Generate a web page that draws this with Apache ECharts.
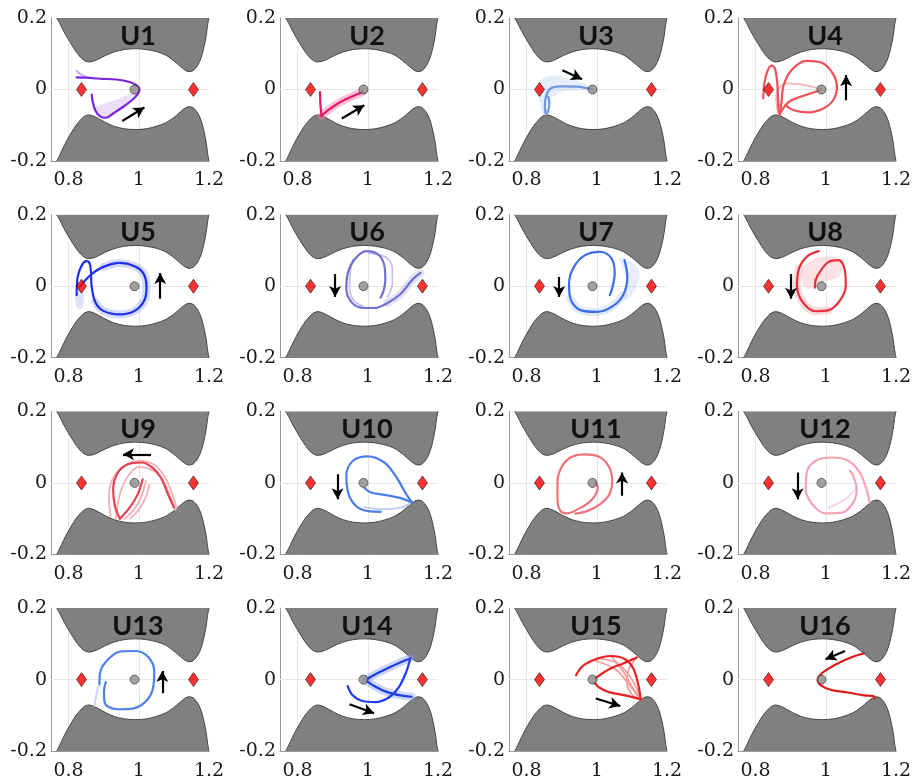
<!DOCTYPE html>
<html><head><meta charset="utf-8">
<script src="https://cdn.jsdelivr.net/npm/echarts@6/dist/echarts.min.js"></script>
<style>html,body{margin:0;padding:0;background:#fff}#c{width:917px;height:783px}</style>
</head><body><div id="c"></div>
<script>
// ---------- data ----------
const panelNames = ['U1','U2','U3','U4','U5','U6','U7','U8','U9','U10','U11','U12','U13','U14','U15','U16'];
const xTicks = [0.8, 1, 1.2];
const yTicks = [-0.2, 0, 0.2];
const lagrangeX = [0.8369, 1.1557];
const moonX = 0.98785;

// zero-velocity-curve boundaries (forbidden region edges)
const zvcX     = [0.766,0.775,0.785,0.796,0.810,0.822,0.834,0.845,0.857,0.870,0.885,0.905,0.930,0.960,0.990,1.020,1.050,1.077,1.100,1.119,1.132,1.143,1.155,1.168,1.178,1.186,1.192,1.196,1.200];
const zvcUpper = [0.200,0.185,0.165,0.146,0.123,0.105,0.090,0.081,0.077,0.079,0.085,0.095,0.105,0.112,0.114,0.112,0.106,0.096,0.080,0.064,0.054,0.050,0.053,0.068,0.090,0.120,0.150,0.180,0.200];
const zvcLower = [-0.200,-0.183,-0.162,-0.141,-0.117,-0.099,-0.085,-0.075,-0.071,-0.074,-0.081,-0.092,-0.103,-0.110,-0.112,-0.110,-0.103,-0.093,-0.078,-0.062,-0.052,-0.048,-0.051,-0.066,-0.088,-0.118,-0.148,-0.178,-0.200];

// trajectories
const u1Main = [[0.823,0.034],[0.852,0.033],[0.890,0.030],[0.937,0.028],[0.974,0.021],[0.993,0.012],[1.002,0.000],[0.997,-0.013],[0.983,-0.028],[0.955,-0.049],[0.927,-0.067],[0.907,-0.079],[0.890,-0.075],[0.876,-0.058],[0.868,-0.030],[0.866,-0.014]];
const u1Tail = [[0.823,0.052],[0.835,0.042],[0.852,0.035]];
const u1Fan = [[0.875,-0.050],[0.907,-0.077],[0.955,-0.050],[0.994,-0.014],[0.982,-0.011],[0.936,-0.028],[0.899,-0.041]];
const u1Arrow = [[0.953,-0.088],[1.016,-0.050]];

const u2A = [[0.864,-0.007],[0.865,-0.039],[0.868,-0.074]];
const u2B = [[0.868,-0.074],[0.887,-0.058],[0.915,-0.039],[0.943,-0.025],[0.966,-0.015],[0.985,-0.007]];
const u2Arrow = [[0.926,-0.081],[0.990,-0.044]];

const u3Main = [[0.988,0.000],[0.944,0.008],[0.897,0.009],[0.867,0.002],[0.855,-0.021],[0.852,-0.049],[0.856,-0.067],[0.862,-0.058],[0.865,-0.035],[0.862,-0.021]];
const u3Fan = [[0.986,0.001],[0.953,0.021],[0.907,0.036],[0.860,0.037],[0.837,0.021],[0.834,-0.021],[0.846,-0.067],[0.855,-0.072],[0.865,-0.030],[0.897,-0.009],[0.944,-0.002]];
const u3Arrow = [[0.902,0.054],[0.958,0.029]];

const u4Loop = [[0.822,-0.025],[0.825,0.017],[0.834,0.052],[0.845,0.067],[0.855,0.059],[0.861,0.026],[0.864,-0.021],[0.866,-0.058],[0.869,-0.072]];
const u4Circle = [[0.869,-0.072],[0.874,-0.035],[0.880,0.012],[0.904,0.056],[0.946,0.080],[0.993,0.073],[1.023,0.040],[1.032,0.006],[1.021,-0.030],[0.993,-0.053],[0.951,-0.064],[0.909,-0.058],[0.885,-0.044]];
const u4Line = [[0.871,-0.065],[0.894,-0.035],[0.932,-0.019],[0.969,-0.007],[0.988,0.000]];
const u4Faint = [[0.988,0.000],[0.941,0.012],[0.894,0.017],[0.868,0.006],[0.859,-0.021],[0.863,-0.063]];
const u4Arrow = [[1.058,-0.030],[1.058,0.040]];

const u5Main = [[0.823,-0.025],[0.826,0.026],[0.838,0.059],[0.851,0.070],[0.860,0.064],[0.864,0.036],[0.866,-0.002],[0.876,-0.044],[0.899,-0.069],[0.946,-0.079],[0.988,-0.069],[1.016,-0.039],[1.022,-0.002],[1.013,0.036],[0.988,0.056],[0.946,0.065],[0.899,0.054],[0.866,0.034],[0.843,0.012],[0.832,-0.002]];
const u5Band = [[0.876,-0.044],[0.899,-0.069],[0.946,-0.079],[0.988,-0.069],[1.016,-0.039],[1.022,-0.002],[1.013,0.036],[0.988,0.056],[0.946,0.065],[0.899,0.054]];
const u5Fan = [[0.820,-0.021],[0.823,-0.058],[0.838,-0.063],[0.843,-0.030],[0.834,-0.002]];
const u5Arrow = [[1.061,-0.035],[1.061,0.037]];

const u6Main = [[1.150,0.037],[1.126,0.017],[1.094,-0.021],[1.056,-0.047],[1.019,-0.061],[0.981,-0.060],[0.953,-0.044],[0.939,-0.007],[0.944,0.040],[0.965,0.078],[0.995,0.098],[1.028,0.090],[1.047,0.059],[1.050,0.017],[1.044,-0.016],[1.036,-0.032]];
const u6Faint1 = [[1.003,0.092],[1.050,0.082],[1.070,0.050],[1.070,0.007],[1.056,-0.030]];
const u6Faint2 = [[0.958,0.075],[0.950,0.040],[0.948,-0.005],[0.960,-0.040],[0.985,-0.055]];
const u6Band = [[1.150,0.037],[1.126,0.017],[1.094,-0.021],[1.056,-0.047]];
const u6Arrow = [[0.907,0.034],[0.907,-0.030]];

const u7Main = [[1.079,0.073],[1.087,0.026],[1.075,-0.025],[1.042,-0.058],[1.000,-0.072],[0.953,-0.067],[0.925,-0.035],[0.921,0.007],[0.935,0.054],[0.967,0.087],[1.009,0.096],[1.042,0.078],[1.051,0.036],[1.045,-0.002],[1.037,-0.025]];
const u7Fan = [[1.065,0.078],[1.103,0.064],[1.122,0.036],[1.108,-0.011],[1.080,-0.039],[1.084,0.017]];
const u7Band = [[1.075,-0.025],[1.042,-0.058],[1.000,-0.072],[0.953,-0.067],[0.925,-0.035]];
const u7Arrow = [[0.893,0.026],[0.893,-0.030]];

const u8Main = [[0.980,0.098],[0.948,0.084],[0.924,0.050],[0.918,0.003],[0.934,-0.044],[0.971,-0.070],[1.008,-0.067],[1.041,-0.039],[1.057,0.003],[1.053,0.050],[1.036,0.073],[1.008,0.068],[0.985,0.043],[0.971,0.017],[0.969,-0.004]];
const u8Fan = [[0.934,0.050],[0.971,0.078],[1.027,0.082],[1.051,0.054],[1.036,0.026],[0.990,0.012],[0.952,-0.007],[0.934,0.007]];
const u8Band = [[0.924,0.050],[0.918,0.003],[0.934,-0.044],[0.971,-0.070],[1.008,-0.067]];
const u8Arrow = [[0.901,0.034],[0.901,-0.035]];

const u9A = [[1.100,-0.069],[1.081,-0.027],[1.063,0.015],[1.039,0.043],[1.007,0.057],[0.969,0.052],[0.941,0.029],[0.927,-0.018],[0.932,-0.064],[0.946,-0.100]];
const u9B = [[0.946,-0.100],[0.974,-0.069],[0.997,-0.032],[1.011,0.010]];
const u9F1 = [[0.920,-0.095],[0.915,-0.040],[0.925,0.010],[0.955,0.045],[1.000,0.062],[1.045,0.050],[1.075,0.015],[1.095,-0.030],[1.108,-0.070]];
const u9F2 = [[0.960,-0.100],[0.990,-0.070],[1.010,-0.030],[1.020,0.005]];
const u9F3 = [[0.975,-0.100],[1.000,-0.075],[1.020,-0.040],[1.030,-0.005]];
const u9F4 = [[0.935,-0.100],[0.940,-0.060],[0.950,-0.020],[0.970,0.020],[1.000,0.045],[1.040,0.035],[1.070,0.005],[1.090,-0.040],[1.105,-0.075]];
const u9Arrow = [[1.035,0.080],[0.955,0.080]];

const u10A = [[0.991,-0.015],[1.009,-0.027],[1.056,-0.035],[1.098,-0.044],[1.126,-0.055]];
const u10B = [[1.126,-0.055],[1.107,-0.027],[1.079,0.020],[1.047,0.057],[1.000,0.074],[0.958,0.062],[0.939,0.020],[0.949,-0.041],[0.986,-0.076],[1.037,-0.081]];
const u10Faint = [[0.990,-0.068],[1.040,-0.074],[1.090,-0.070],[1.120,-0.058]];
const u10Arrow = [[0.914,0.024],[0.914,-0.046]];

const u11Main = [[0.995,0.003],[1.003,-0.013],[0.995,-0.036],[0.977,-0.055],[0.949,-0.072],[0.916,-0.085],[0.897,-0.079],[0.888,-0.046],[0.888,0.001],[0.899,0.043],[0.925,0.071],[0.963,0.080],[1.005,0.074],[1.033,0.048],[1.044,0.008],[1.036,-0.032],[1.009,-0.060],[0.972,-0.079],[0.939,-0.086]];
const u11Arrow = [[1.072,-0.036],[1.072,0.029]];

const u12Main = [[1.125,-0.055],[1.116,-0.018],[1.097,0.029],[1.064,0.062],[1.018,0.071],[0.971,0.062],[0.946,0.029],[0.943,-0.018],[0.962,-0.060],[0.999,-0.085],[1.046,-0.083],[1.078,-0.055],[1.088,-0.018],[1.078,0.020],[1.069,0.034]];
const u12Faint = [[1.008,-0.069],[1.055,-0.046],[1.088,-0.013]];
const u12Arrow = [[0.920,0.029],[0.920,-0.046]];

const u13Main = [[0.888,-0.013],[0.890,0.020],[0.913,0.057],[0.950,0.079],[0.993,0.080],[1.028,0.062],[1.044,0.024],[1.041,-0.022],[1.021,-0.060],[0.983,-0.081],[0.941,-0.083],[0.913,-0.076],[0.902,-0.060],[0.901,-0.032],[0.906,-0.007]];
const u13Faint = [[0.874,-0.074],[0.880,-0.036],[0.888,-0.013]];
const u13Arrow = [[1.067,-0.038],[1.067,0.024]];

const u14A = [[0.943,-0.018],[0.957,-0.044],[0.985,-0.060],[1.022,-0.063],[1.060,-0.050],[1.088,-0.022],[1.109,0.020],[1.121,0.059]];
const u14B = [[1.121,0.059],[1.092,0.048],[1.055,0.031],[1.022,0.015],[0.997,0.001]];
const u14C = [[0.997,-0.004],[1.022,-0.020],[1.055,-0.035],[1.093,-0.044],[1.125,-0.048]];
const u14Arrow = [[0.948,-0.069],[1.018,-0.094]];

const u15A = [[0.941,0.012],[0.960,0.038],[0.997,0.057],[1.039,0.066],[1.081,0.057],[1.105,0.029],[1.119,-0.018],[1.125,-0.055]];
const u15B = [[1.125,-0.055],[1.081,-0.044],[1.035,-0.035],[1.007,-0.022],[0.993,-0.008]];
const u15C = [[0.995,0.003],[1.035,0.029],[1.077,0.046],[1.114,0.062]];
const u15F1 = [[1.114,0.062],[1.091,0.029],[1.086,-0.008],[1.100,-0.041],[1.125,-0.055]];
const u15F2 = [[1.044,0.062],[1.077,0.020],[1.105,-0.027],[1.125,-0.055]];
const u15F3 = [[0.997,0.052],[1.053,0.029],[1.091,-0.013],[1.123,-0.055]];
const u15F4 = [[1.000,0.060],[1.060,0.045],[1.100,0.000],[1.124,-0.050]];
const u15Arrow = [[0.997,-0.053],[1.067,-0.074]];

const u16Main = [[1.108,0.073],[1.072,0.062],[1.035,0.046],[1.002,0.027],[0.983,0.012],[0.977,-0.001],[0.986,-0.016],[1.016,-0.029],[1.063,-0.036],[1.109,-0.044],[1.136,-0.046],[1.139,-0.053]];
const u16Arrow = [[1.055,0.080],[0.999,0.057]];

// per-panel colours
const mainColors  = ['#7a22e0','#e8156a','#6d95e0','#ef5058','#1f2ee8','#7070d0','#3d6ee8','#e8303c','#e04451','#4d7de8','#f0727a','#f5a3b5','#4f80ea','#1f3de4','#ea2020','#e01818'];
const lightColors = ['#c4a4f2','#f27aa8','#b9cdf2','#f8b4b8','#9fb0f4','#c2c2ee','#bccdf6','#f6aeb3','#f4b0b6','#bccdf6','#f8c0c4','#fad2dc','#c2d3f6','#8ea4f2','#f4a0a0','#f4a0a0'];

const panels = [
  {main:[u1Main], faint:[u1Tail], thick:[], polys:[u1Fan], arrow:u1Arrow},
  {main:[u2A,u2B], faint:[], thick:[u2B], polys:[], arrow:u2Arrow},
  {main:[u3Main], faint:[], thick:[], polys:[u3Fan], arrow:u3Arrow},
  {main:[u4Loop,u4Circle,u4Line], faint:[u4Faint], thick:[], polys:[], arrow:u4Arrow},
  {main:[u5Main], faint:[], thick:[u5Band], polys:[u5Fan], arrow:u5Arrow},
  {main:[u6Main], faint:[u6Faint1,u6Faint2], thick:[u6Band], polys:[], arrow:u6Arrow},
  {main:[u7Main], faint:[], thick:[u7Band], polys:[u7Fan], arrow:u7Arrow},
  {main:[u8Main], faint:[], thick:[u8Band], polys:[u8Fan], arrow:u8Arrow},
  {main:[u9A,u9B], faint:[u9F1,u9F2,u9F3,u9F4], thick:[], polys:[], arrow:u9Arrow},
  {main:[u10A,u10B], faint:[u10Faint], thick:[], polys:[], arrow:u10Arrow},
  {main:[u11Main], faint:[], thick:[], polys:[], arrow:u11Arrow},
  {main:[u12Main], faint:[u12Faint], thick:[], polys:[], arrow:u12Arrow},
  {main:[u13Main], faint:[u13Faint], thick:[], polys:[], arrow:u13Arrow},
  {main:[u14A,u14B,u14C], faint:[], thick:[u14B,u14C], polys:[], arrow:u14Arrow},
  {main:[u15A,u15B,u15C], faint:[u15F1,u15F2,u15F3,u15F4], thick:[], polys:[], arrow:u15Arrow},
  {main:[u16Main], faint:[], thick:[], polys:[], arrow:u16Arrow}
];

// ---------- layout ----------
const GL = 51, GT = 18, GW = 158, GH = 143, DX = 229, DY = 196.7;
const grids = [], xAxes = [], yAxes = [], series = [], graphics = [];
const labelStyle = {fontFamily: 'DejaVu Serif', fontSize: 19, color: '#1a1a1a'};

panels.forEach((p, i) => {
  const r = Math.floor(i / 4), c = i % 4;
  const left = GL + c * DX, top = GT + r * DY;
  grids.push({left: left, top: top, width: GW, height: GH});
  xAxes.push({
    type: 'value', gridIndex: i, min: 0.75, max: 1.2,
    axisLine: {show: true, onZero: false, lineStyle: {color: '#9a9a9a', width: 1}},
    axisTick: {show: false, customValues: xTicks},
    axisLabel: Object.assign({customValues: xTicks, margin: 10}, labelStyle),
    splitLine: {show: false}
  });
  yAxes.push({
    type: 'value', gridIndex: i, min: -0.2, max: 0.2,
    axisLine: {show: true, onZero: false, lineStyle: {color: '#9a9a9a', width: 1}},
    axisTick: {show: false, customValues: yTicks},
    axisLabel: Object.assign({customValues: yTicks, margin: 4}, labelStyle),
    splitLine: {show: false}
  });
  const ax = {xAxisIndex: i, yAxisIndex: i};
  // grid lines
  series.push(Object.assign({
    type: 'line', data: [[1, 0]], symbol: 'none', lineStyle: {opacity: 0}, z: 1, silent: true,
    markLine: {silent: true, symbol: ['none', 'none'], label: {show: false}, z: 1,
      lineStyle: {color: '#e6e6e6', width: 1, type: 'solid'},
      emphasis: {disabled: true},
      data: [{xAxis: 0.8}, {xAxis: 1}, {yAxis: 0}]}
  }, ax));
  // forbidden regions
  series.push(Object.assign({
    type: 'line', data: zvcX.map((x, k) => [x, zvcUpper[k]]), symbol: 'none', smooth: 0.3, z: 2, silent: true,
    lineStyle: {color: '#3a3a3a', width: 0.9},
    areaStyle: {color: '#808080', opacity: 1, origin: 'end'}
  }, ax));
  series.push(Object.assign({
    type: 'line', data: zvcX.map((x, k) => [x, zvcLower[k]]), symbol: 'none', smooth: 0.3, z: 2, silent: true,
    lineStyle: {color: '#3a3a3a', width: 0.9},
    areaStyle: {color: '#808080', opacity: 1, origin: 'start'}
  }, ax));
  // shaded fans
  p.polys.forEach(poly => {
    series.push(Object.assign({
      type: 'custom', data: [[1, 0]], z: 3, silent: true, clip: true,
      renderItem: (params, api) => ({
        type: 'polygon',
        shape: {points: poly.map(pt => api.coord(pt)), smooth: 0.3},
        style: {fill: lightColors[i], opacity: 0.36}
      })
    }, ax));
  });
  p.thick.forEach(d => {
    series.push(Object.assign({
      type: 'line', data: d, symbol: 'none', smooth: 0.35, z: 3, silent: true,
      lineStyle: {color: lightColors[i], width: 8, opacity: 0.45, cap: 'round', join: 'round'}
    }, ax));
  });
  p.faint.forEach(d => {
    series.push(Object.assign({
      type: 'line', data: d, symbol: 'none', smooth: 0.35, z: 3, silent: true,
      lineStyle: {color: lightColors[i], width: 1.8, cap: 'round'}
    }, ax));
  });
  p.main.forEach(d => {
    series.push(Object.assign({
      type: 'line', data: d, symbol: 'none', smooth: 0.35, z: 4, silent: true,
      lineStyle: {color: mainColors[i], width: 2.2, cap: 'round', join: 'round'}
    }, ax));
  });
  // Lagrange points, Moon, and direction arrow
  series.push(Object.assign({
    type: 'scatter', z: 6, silent: true,
    data: lagrangeX.map(x => [x, 0]),
    symbol: 'diamond', symbolSize: [10, 14],
    itemStyle: {color: '#ff0000', borderColor: '#000', borderWidth: 0.7}
  }, ax));
  series.push(Object.assign({
    type: 'scatter', z: 6, silent: true,
    data: [[moonX, 0]], symbol: 'circle', symbolSize: 9,
    itemStyle: {color: '#8a8a8a', borderColor: '#2a2a2a', borderWidth: 0.8},
    markLine: {silent: true, z: 7, symbol: ['none', 'arrow'], symbolSize: [9, 11],
      label: {show: false}, emphasis: {disabled: true},
      lineStyle: {color: '#000', width: 2.2, type: 'solid'},
      data: [[{coord: p.arrow[0]}, {coord: p.arrow[1]}]]}
  }, ax));
  graphics.push({
    type: 'text', z: 100, silent: true,
    x: left + 87, y: top + 18,
    style: {text: panelNames[i], fill: '#111', font: 'bold 27px Lato',
      textAlign: 'center', textVerticalAlign: 'middle', align: 'center', verticalAlign: 'middle'}
  });
});

const chart = echarts.init(document.getElementById('c'), null, {renderer: 'canvas'});
chart.setOption({
  animation: false,
  backgroundColor: '#fff',
  grid: grids, xAxis: xAxes, yAxis: yAxes, series: series, graphic: graphics
});
</script></body></html>
